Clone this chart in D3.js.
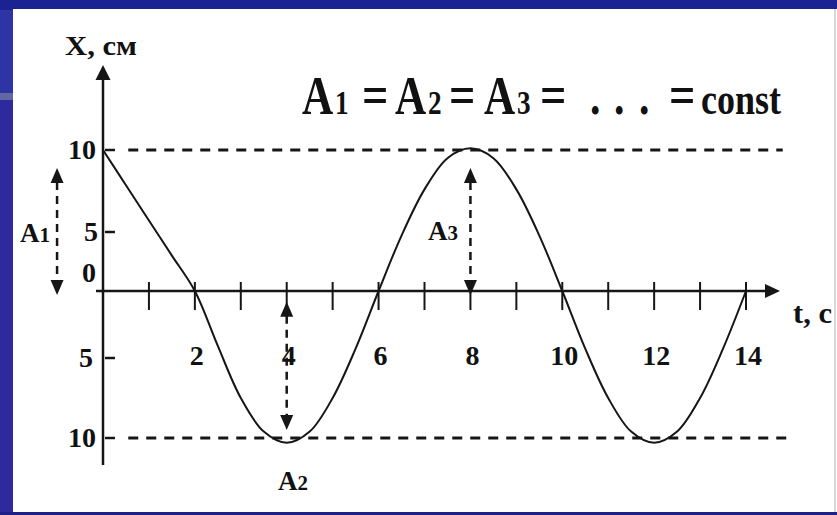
<!DOCTYPE html>
<html><head><meta charset="utf-8">
<script src="https://cdn.jsdelivr.net/npm/d3@7"></script>
<style>
html,body{margin:0;padding:0;background:#28299c;}
svg{display:block;}
text{font-family:"Liberation Serif","Times New Roman",serif;font-weight:bold;fill:#111;}
</style></head>
<body>
<svg id="c" width="837" height="515"></svg>
<script>
// ---- data ----
const curveT = [0, 0.5, 1, 1.5, 2, 2.5, 3, 3.5, 4, 4.5, 5, 5.5, 6, 6.5, 7, 7.5, 8, 8.5, 9, 9.5, 10, 10.5, 11, 11.5, 12, 12.5, 13, 13.5, 14];
const curveX = [10, 7.85, 5.7, 3.0, 0, -4.1, -7.5, -9.6, -10.3, -9.6, -7.5, -4.3, 0, 4.7, 7.6, 9.5, 10.1, 9.5, 7.6, 4.7, 0, -4.3, -7.5, -9.6, -10.3, -9.6, -7.5, -4.3, 0];
const xTicks = [1, 2, 3, 4, 5, 6, 7, 8, 9, 10, 11, 12, 13, 14];
const xTickLabels = ["2", "4", "6", "8", "10", "12", "14"];
const xLabelValues = [2, 4, 6, 8, 10, 12, 14];
const yTickValues = [10, 5, 0, -5, -10];
const yTickLabels = ["10", "5", "0", "5", "10"];
const ampLevels = [10, -10];
const arrowNames = ["1", "2", "3"];
const arrowT = [-1, 4, 8];
const arrowFrom = [-0.3, -0.8, -0.3];
const arrowTo = [8.9, -9.5, 8.9];
const titleParts = ["A", "1", "=", "A", "2", "=", "A", "3", "=", ".", ".", ".", "=", "const"];

// ---- scales ----
const x = d3.scaleLinear().domain([0, 14]).range([103, 746]);
const y = d3.scaleLinear().domain([-10, -5, 0, 5, 10]).range([438, 358, 291, 232, 150]);

const svg = d3.select("#c");
const ink = "#161616";

// background frame
svg.append("rect").attr("x",0).attr("y",0).attr("width",837).attr("height",515).attr("fill","#2c2a9c");
svg.append("rect").attr("x",0).attr("y",0).attr("width",837).attr("height",10).attr("fill","#1b2393");
svg.append("rect").attr("x",0).attr("y",10).attr("width",14).attr("height",84).attr("fill","#2d34a6");
svg.append("rect").attr("x",0).attr("y",93).attr("width",14).attr("height",7).attr("fill","#6466a4");
svg.append("rect").attr("x",0).attr("y",512).attr("width",837).attr("height",3).attr("fill","#1e2088");
svg.append("rect").attr("x",13).attr("y",9).attr("width",824).attr("height",503).attr("fill","#ffffff");
svg.append("line").attr("x1",835).attr("x2",835).attr("y1",9).attr("y2",512).attr("stroke","#d8d8d8").attr("stroke-width",2);

// amplitude dashed lines
svg.selectAll(".amp").data(ampLevels).join("line")
  .attr("x1", x(0.55)).attr("x2", (d,i)=> i===0 ? x(14.8) : x(14.95))
  .attr("y1", d=>y(d)).attr("y2", d=>y(d))
  .attr("stroke", ink).attr("stroke-width", 3).attr("stroke-dasharray","10,8");

// y axis
const x0 = x(0), y0 = y(0);
svg.append("line").attr("x1",x0).attr("x2",x0).attr("y1",y(-10)+27).attr("y2",78).attr("stroke",ink).attr("stroke-width",2.5);
svg.append("path").attr("d",`M${x0},65 L${x0-7.5},80 L${x0+7.5},80 Z`).attr("fill",ink);
// x axis
svg.append("line").attr("x1",x0-7).attr("x2",768).attr("y1",y0).attr("y2",y0).attr("stroke",ink).attr("stroke-width",2.5);
svg.append("path").attr("d",`M780,${y0} L765,${y0-7} L765,${y0+7} Z`).attr("fill",ink);

// x ticks
svg.selectAll(".xt").data(xTicks).join("line")
  .attr("x1",d=>x(d)).attr("x2",d=>x(d)).attr("y1",y0-9).attr("y2",y0+19)
  .attr("stroke",ink).attr("stroke-width",2);
svg.selectAll(".xl").data(xLabelValues).join("text")
  .attr("x",d=>x(d)+2).attr("y",365).attr("text-anchor","middle").attr("font-size",28)
  .text((d,i)=>xTickLabels[i]);

// y ticks
svg.selectAll(".yt").data(yTickValues.filter(v=>v!==0)).join("line")
  .attr("x1",x0+2).attr("x2",x0+12).attr("y1",d=>y(d)).attr("y2",d=>y(d))
  .attr("stroke",ink).attr("stroke-width",2.5);
svg.selectAll(".yl").data(yTickValues).join("text")
  .attr("x",d=> d===5 ? 98 : (d===-5 ? 93 : 96)).attr("y",d=> d===0 ? y(d)-9 : y(d)+9)
  .attr("text-anchor","end").attr("font-size",28)
  .text((d,i)=>yTickLabels[i]);

// axis titles
svg.append("text").attr("x",65).attr("y",55).attr("font-size",28).attr("textLength",72).attr("lengthAdjust","spacingAndGlyphs").text("X, см");
svg.append("text").attr("x",793).attr("y",323).attr("font-size",29).attr("textLength",39).attr("lengthAdjust","spacingAndGlyphs").text("t, c");

// curve
const pts = curveT.map((t,i)=>[x(t), y(curveX[i])]);
svg.append("path").attr("d", d3.line().curve(d3.curveCatmullRom.alpha(0.5))(pts))
  .attr("fill","none").attr("stroke",ink).attr("stroke-width",2);

// amplitude arrows
arrowNames.forEach((n,i)=>{
  const ax = x(arrowT[i]);
  const ya = y(arrowFrom[i]), yb = y(arrowTo[i]);
  const top = Math.min(ya,yb), bot = Math.max(ya,yb);
  svg.append("line").attr("x1",ax).attr("x2",ax).attr("y1",top+14).attr("y2",bot-14)
    .attr("stroke",ink).attr("stroke-width",2.5).attr("stroke-dasharray","8,6");
  svg.append("path").attr("d",`M${ax},${top} L${ax-6.5},${top+15} L${ax+6.5},${top+15} Z`).attr("fill",ink);
  svg.append("path").attr("d",`M${ax},${bot} L${ax-6.5},${bot-15} L${ax+6.5},${bot-15} Z`).attr("fill",ink);
});
const labelPos = [[20,242],[278,490],[428,240]];
arrowNames.forEach((n,i)=>{
  const t = svg.append("text").attr("x",labelPos[i][0]).attr("y",labelPos[i][1]).attr("font-size",27);
  t.append("tspan").text("A");
  t.append("tspan").attr("font-size",21).text(n);
});

// title: one text, horizontally condensed
const sx = 0.8;
const tx = [302, 335, 362, 395, 428, 449, 484, 517, 540, 593, 617, 642, 669, 701];
const ts = [54, 34, 58, 54, 34, 58, 54, 34, 58, 52, 52, 52, 58, 45];
const title = svg.append("g").attr("transform",`scale(${sx},1)`)
  .append("text").attr("y",114);
titleParts.forEach((p,i)=>{
  const sp = title.append("tspan").attr("font-size",ts[i]).text(p);
  if (p === ".") sp.attr("x",(tx[i]-3)/sx);
  else sp.attr("x",tx[i]/sx);
});
</script>
</body></html>
